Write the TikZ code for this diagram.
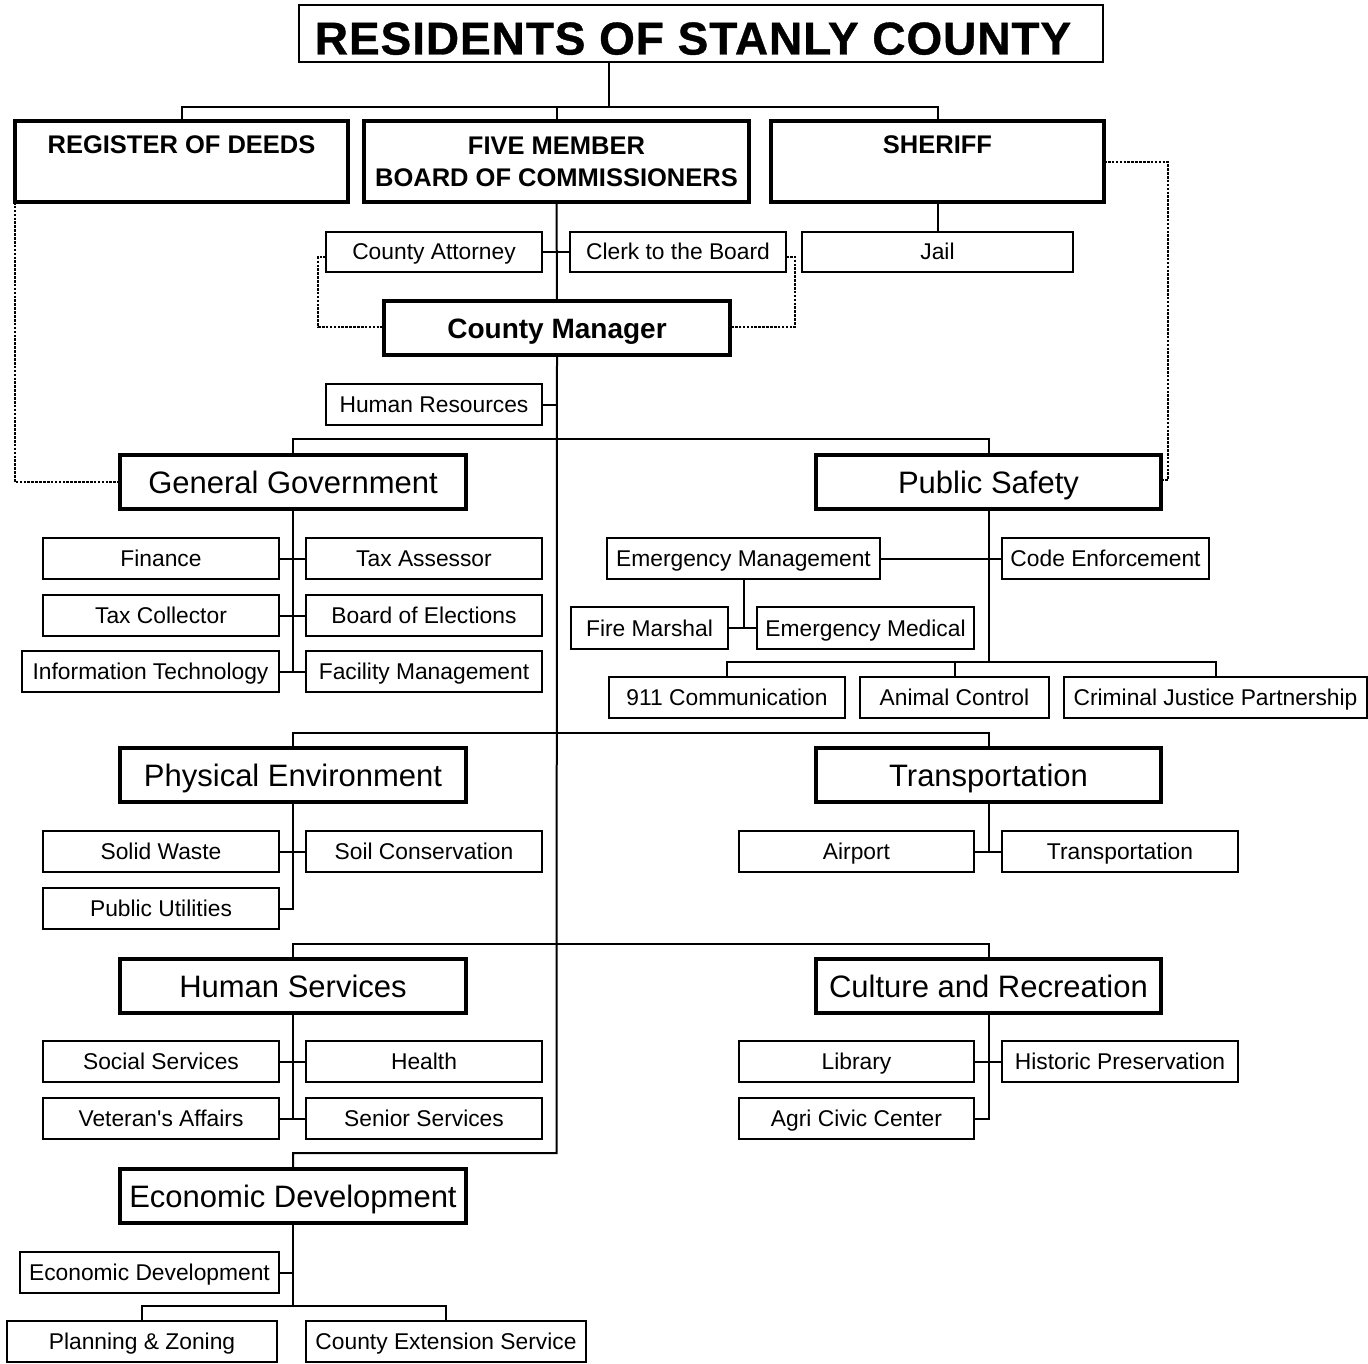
\documentclass[tikz,border=0pt]{standalone}
\usepackage{fontspec}
\setmainfont{Liberation Sans}
\newfontfamily\heavyfont{Liberation Sans Bold}[FakeBold=0.8,LetterSpace=2]
\begin{document}
\begin{tikzpicture}[x=1pt,y=-1pt,
  base/.style={draw=black, inner sep=0pt, outer sep=0pt, align=center},
  thin/.style={base, line width=2pt, font=\fontsize{22.8}{27}\selectfont, text height=16pt, text depth=0pt},
  thick/.style={base, line width=4pt, font=\fontsize{31}{36}\selectfont, text height=22pt, text depth=0pt},
  hdrbox/.style={base, line width=4pt, font=\bfseries\fontsize{25.5}{32}\selectfont},
  hdrtxt/.style={inner sep=0pt, font=\bfseries\fontsize{25.5}{32}\selectfont, text height=18pt, text depth=0pt},
  mgr/.style={base, line width=4pt, font=\bfseries\fontsize{28}{32}\selectfont, text height=20pt, text depth=0pt},
  ttl/.style={base, line width=2pt, font=\heavyfont\fontsize{46}{50}\selectfont, text height=42pt, text depth=0pt},
  con/.style={line width=2pt},
  dotline/.style={line width=2.2pt, dash pattern=on 2.6pt off 1.3pt}]
\useasboundingbox (0,0) rectangle (1368,1364);
\newcommand\bx[7]{\pgfmathsetmacro\bw{#4-#2}\pgfmathsetmacro\bh{#5-#3}%
  \node[#6,minimum width=\bw pt,minimum height=\bh pt] (#1) at ({(#2+#4)/2},{(#3+#5)/2}) {#7};}
% boxes
\bx{title}{299}{5}{1103}{62}{ttl}{RESIDENTS OF STANLY COUNTY\hspace*{16pt}}
\bx{reg}{15}{121}{348}{202}{hdrbox}{}
\bx{board}{364}{121}{749}{202}{hdrbox}{FIVE MEMBER\\BOARD OF COMMISSIONERS}
\bx{sher}{771}{121}{1104}{202}{hdrbox}{}
\node[hdrtxt] (regtxt) at ([yshift=-24pt]reg.north) {REGISTER OF DEEDS};
\node[hdrtxt] (shertxt) at ([yshift=-24pt]sher.north) {SHERIFF};
\bx{jail}{802}{232}{1073}{272}{thin}{Jail}
\bx{ca}{326}{232}{542}{272}{thin}{County Attorney}
\bx{cb}{570}{232}{786}{272}{thin}{Clerk to the Board}
\bx{cm}{384}{301}{730}{355}{mgr}{County Manager}
\bx{hr}{326}{384}{542}{425}{thin}{Human Resources}
\bx{gg}{120}{455}{466}{509}{thick}{General Government}
\bx{ps}{816}{455}{1161}{509}{thick}{Public Safety}
\bx{fin}{43}{538}{279}{579}{thin}{Finance}
\bx{tas}{306}{538}{542}{579}{thin}{Tax Assessor}
\bx{tc}{43}{595}{279}{636}{thin}{Tax Collector}
\bx{boe}{306}{595}{542}{636}{thin}{Board of Elections}
\bx{it}{22}{651}{279}{692}{thin}{Information Technology}
\bx{fac}{306}{651}{542}{692}{thin}{Facility Management}
\bx{em}{607}{538}{880}{579}{thin}{Emergency Management}
\bx{ce}{1002}{538}{1209}{579}{thin}{Code Enforcement}
\bx{fm}{571}{607}{728}{649}{thin}{Fire Marshal}
\bx{emed}{757}{607}{974}{649}{thin}{Emergency Medical}
\bx{c911}{609}{677}{845}{718}{thin}{911 Communication}
\bx{ac}{860}{677}{1049}{718}{thin}{Animal Control}
\bx{cjp}{1064}{677}{1367}{718}{thin}{Criminal Justice Partnership}
\bx{pe}{120}{748}{466}{802}{thick}{Physical Environment}
\bx{tr}{816}{748}{1161}{802}{thick}{Transportation}
\bx{sw}{43}{831}{279}{872}{thin}{Solid Waste}
\bx{sc}{306}{831}{542}{872}{thin}{Soil Conservation}
\bx{pu}{43}{888}{279}{929}{thin}{Public Utilities}
\bx{ap}{739}{831}{974}{872}{thin}{Airport}
\bx{trs}{1002}{831}{1238}{872}{thin}{Transportation}
\bx{hs}{120}{959}{466}{1013}{thick}{Human Services}
\bx{cr}{816}{959}{1161}{1013}{thick}{Culture and Recreation}
\bx{ss}{43}{1041}{279}{1082}{thin}{Social Services}
\bx{he}{306}{1041}{542}{1082}{thin}{Health}
\bx{va}{43}{1098}{279}{1139}{thin}{Veteran\textquotesingle s Affairs}
\bx{sen}{306}{1098}{542}{1139}{thin}{Senior Services}
\bx{lib}{739}{1041}{974}{1082}{thin}{Library}
\bx{hp}{1002}{1041}{1238}{1082}{thin}{Historic Preservation}
\bx{agri}{739}{1098}{974}{1139}{thin}{Agri Civic Center}
\bx{ed}{120}{1169}{466}{1223}{thick}{Economic Development}
\bx{eds}{20}{1252}{279}{1293}{thin}{Economic Development}
\bx{pz}{7}{1321}{277}{1362}{thin}{Planning \& Zoning}
\bx{ces}{306}{1321}{586}{1362}{thin}{County Extension Service}
% top bus
\coordinate (bus1) at (609,107);
\draw[con] (bus1) -- (bus1 |- title.south);
\draw[con] (reg.north) -- (reg.north |- bus1) -- (sher.north |- bus1) -- (sher.north);
\draw[con] (board.north) -- (board.north |- bus1);
\draw[con] (sher.south) -- (jail.north);
% main spine
\coordinate (spend) at (556.5,1153);
\draw[con] (board.south) -- (cm.north);
\draw[con] (cm.south) -- (spend) -| (ed.north);
\draw[con] (ca.east) -- (cb.west);
\draw[con] (hr.east) -- (hr.east -| cm.south);
% buses
\draw[con] (gg.north) -- (gg.north |- 0,439) -- (ps.north |- 0,439) -- (ps.north);
\draw[con] (pe.north) -- (pe.north |- 0,733) -- (tr.north |- 0,733) -- (tr.north);
\draw[con] (hs.north) -- (hs.north |- 0,944) -- (cr.north |- 0,944) -- (cr.north);
% general government
\draw[con] (gg.south) -- (gg.south |- it.east);
\draw[con] (fin.east) -- (tas.west);
\draw[con] (tc.east) -- (boe.west);
\draw[con] (it.east) -- (fac.west);
% public safety
\coordinate (psbus) at (988.5,662);
\draw[con] (ps.south) -- (ps.south |- psbus);
\draw[con] (em.east) -- (ce.west);
\draw[con] (em.south) -- (em.south |- fm.east);
\draw[con] (fm.east) -- (emed.west);
\draw[con] (c911.north) -- (c911.north |- psbus) -- (cjp.north |- psbus) -- (cjp.north);
\draw[con] (ac.north) -- (ac.north |- psbus);
% physical environment
\draw[con] (pe.south) -- (pe.south |- pu.east) -- (pu.east);
\draw[con] (sw.east) -- (sc.west);
% transportation
\draw[con] (tr.south) -- (tr.south |- ap.east);
\draw[con] (ap.east) -- (trs.west);
% human services
\draw[con] (hs.south) -- (hs.south |- va.east);
\draw[con] (ss.east) -- (he.west);
\draw[con] (va.east) -- (sen.west);
% culture
\draw[con] (cr.south) -- (cr.south |- agri.east) -- (agri.east);
\draw[con] (lib.east) -- (hp.west);
% economic development
\coordinate (edbus) at (293,1306);
\draw[con] (ed.south) -- (ed.south |- edbus);
\draw[con] (eds.east) -- (eds.east -| ed.south);
\draw[con] (pz.north) -- (pz.north |- edbus) -- (ces.north |- edbus) -- (ces.north);
% dotted lines
\draw[dotline] (reg.south west) -- (reg.south west |- gg.west) -- (gg.west);
\coordinate (sd1) at (1168,162);
\coordinate (sd2) at (1168,480);
\draw[dotline] (sher.east |- sd1) -- (sd1) -- (sd2) -- (ps.east |- sd2);
\coordinate (cad) at (318,257);
\coordinate (cad2) at (318,327);
\draw[dotline] (ca.west |- cad) -- (cad) -- (cad2) -- (cm.west |- cad2);
\coordinate (cbd) at (795,257);
\coordinate (cbd2) at (795,327);
\draw[dotline] (cb.east |- cbd) -- (cbd) -- (cbd2) -- (cm.east |- cbd2);
\end{tikzpicture}
\end{document}
